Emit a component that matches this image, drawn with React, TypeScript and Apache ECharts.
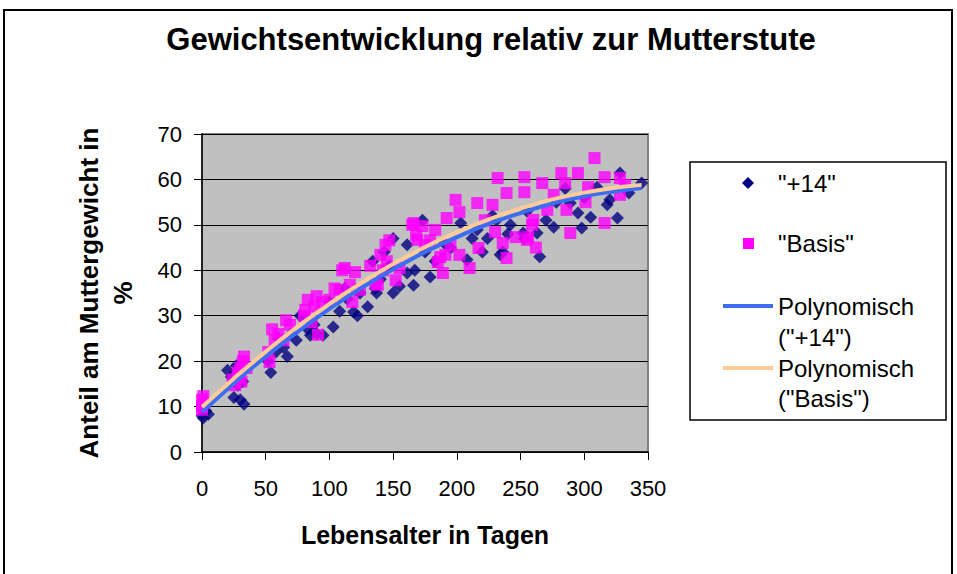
import React, { useEffect, useRef } from "react";
import * as echarts from "echarts";

const chartTitle = "Gewichtsentwicklung relativ zur Mutterstute";
const xAxisName = "Lebensalter in Tagen";
const yAxisName = "Anteil am Muttergewicht in\n%";
const seriesNames = ['"+14"', '"Basis"', 'Polynomisch ("+14")', 'Polynomisch ("Basis")'];

// "+14" measurements: [age in days, % of mare weight]
const plus14: [number, number][] = [
  [0, 8], [1, 7.5], [3, 9], [0, 9.5], [5, 8.3],
  [20, 18], [23, 16.5], [25, 12], [28, 14.7], [30, 11.5], [33, 10.5], [32, 15.5], [27, 19],
  [52, 20], [54, 17.5], [58, 22], [60, 25], [64, 23], [67, 21], [70, 26],
  [74, 24.6], [77, 30], [81, 29.7], [83, 27], [85, 25.7], [88, 28], [90, 26], [95, 25.7],
  [100, 33], [103, 27.5], [108, 31], [112, 36], [114, 33.7], [119, 30.8], [120, 35.7], [122, 30], [124, 35], [130, 32],
  [134, 42], [136, 36], [137, 35], [140, 38], [143, 44], [147, 41], [150, 47], [150, 35], [155, 36.5],
  [161, 39.4], [161, 45.6], [166, 36.7], [167, 40], [173, 51], [175, 44], [179, 38.5], [183, 42], [190, 46], [195, 44.9],
  [203, 50.4], [208, 42.3], [212, 47], [216, 48.9], [220, 44], [224, 47], [228, 52], [231, 51], [234, 43.4], [236, 44], [240, 48],
  [242, 50], [252, 48.2], [253, 47], [255, 53], [263, 48.2], [265, 43], [270, 51], [276, 49.5], [278, 55],
  [285, 58], [289, 54.8], [295, 52.6], [298, 49.3], [300, 56], [305, 51.7], [310, 58.3], [318, 54.4], [320, 55.5], [326, 51.5], [328, 61.4], [335, 57], [345, 59.2],
];

// "Basis" measurements
const basis: [number, number][] = [
  [0, 10], [0, 11.5], [1, 12.3], [2, 10.8], [0, 9.3],
  [24, 16], [26, 14.7], [28, 17.5], [30, 18.5], [32, 20], [33, 21], [35, 18.5], [29, 16.3], [31, 15.5],
  [52, 22], [53, 19.8], [55, 27], [57, 24.6], [60, 26], [64, 24.6], [66, 29], [69, 28],
  [80, 30], [81, 31.3], [83, 33.5], [86, 28.6], [88, 32], [90, 34.3], [91, 25.8], [94, 33],
  [100, 33.5], [104, 36], [108, 35.7], [110, 40], [112, 40.5], [116, 36.8], [120, 39.6], [124, 35.7], [118, 33],
  [132, 41], [136, 37], [138, 36.8], [140, 43.4], [142, 40], [144, 45.6], [147, 46.6], [152, 37.8], [155, 40.5], [145, 42],
  [165, 50], [166, 50.4], [168, 47.8], [169, 46.7], [173, 49.7], [175, 45.6], [179, 46.6], [183, 48.9], [185, 41.8], [187, 42.9], [189, 39.4], [191, 43.4], [192, 51.5], [195, 45.6], [199, 55.5],
  [202, 52.8], [202, 43.4], [210, 40.5], [216, 54.8], [217, 44.9], [222, 51], [228, 54.4], [230, 48.4], [232, 60.3], [236, 46], [239, 57], [239, 42.7],
  [246, 47.3], [253, 60.5], [253, 57.2], [255, 46.7], [256, 47.3], [259, 50], [260, 51.1], [267, 59.2], [271, 53.3], [276, 56.6], [262, 45],
  [282, 61.4], [285, 59.2], [286, 53.3], [289, 48.2], [295, 61.4], [301, 55], [303, 58.3], [308, 64.7], [316, 60.5], [316, 50.4], [328, 60.3], [328, 56.6], [332, 58.8],
];

// polynomial trend lines
const trendX = [0, 25, 50, 75, 100, 125, 150, 175, 200, 225, 250, 275, 300, 325, 345];
const trendPlus14 = [8.8, 15.1, 21.0, 26.4, 31.5, 36.1, 40.2, 44.0, 47.3, 50.2, 52.6, 54.7, 56.3, 57.4, 58.1];
const trendBasis = [9.9, 16.2, 22.1, 27.6, 32.6, 37.2, 41.4, 45.1, 48.4, 51.2, 53.6, 55.6, 57.1, 58.2, 58.8];

const FONT = "'Liberation Sans', Arial, Helvetica, sans-serif";
const NAVY = "#000080";
const PINK = "#FF00FF";
const BLUE = "#3D6EF2";
const PEACH = "#FFCC99";

export default function App() {
  const ref = useRef<HTMLDivElement>(null);
  useEffect(() => {
    document.body.style.margin = "0";
    if (!ref.current) return;
    const chart = echarts.init(ref.current, undefined, { renderer: "svg" });
    const legendX = 690, legendY = 162;
    const legendText = (text: string, y: number) => ({
      type: "text",
      x: 778,
      y,
      style: { text, font: `24px ${FONT}`, fill: "#000", verticalAlign: "middle", align: "left" },
      z: 10,
    });
    chart.setOption({
      animation: false,
      backgroundColor: "#fff",
      textStyle: { fontFamily: FONT },
      title: {
        text: chartTitle,
        left: 491,
        top: 24,
        padding: 0,
        textAlign: "center",
        textStyle: { fontFamily: FONT, fontSize: 31, fontWeight: "bold", color: "#000" },
      },
      grid: {
        left: 202,
        top: 134,
        width: 446,
        height: 318,
        show: true,
        backgroundColor: "#C0C0C0",
        borderColor: "#808080",
        borderWidth: 2,
      },
      xAxis: {
        type: "value",
        min: 0,
        max: 350,
        interval: 50,
        name: xAxisName,
        nameLocation: "middle",
        nameGap: 70,
        nameTextStyle: { fontFamily: FONT, fontSize: 25, fontWeight: "bold", color: "#000" },
        axisLine: { show: true, onZero: false, lineStyle: { color: "#000", width: 1.5 } },
        axisTick: { show: true, length: 8, lineStyle: { color: "#000" } },
        axisLabel: { fontFamily: FONT, fontSize: 22, color: "#000", margin: 25 },
        splitLine: { show: false },
      },
      yAxis: {
        type: "value",
        min: 0,
        max: 70,
        interval: 10,
        name: yAxisName,
        nameLocation: "middle",
        nameRotate: 90,
        nameGap: 62,
        nameTextStyle: { fontFamily: FONT, fontSize: 26, fontWeight: "bold", color: "#000", lineHeight: 34 },
        axisLine: { show: true, onZero: false, lineStyle: { color: "#000", width: 1.5 } },
        axisTick: { show: true, length: 8, lineStyle: { color: "#000" } },
        axisLabel: { fontFamily: FONT, fontSize: 22, color: "#000", margin: 20 },
        splitLine: { show: true, lineStyle: { color: "#000", width: 1 } },
      },
      series: [
        {
          name: seriesNames[0],
          type: "scatter",
          symbol: "diamond",
          symbolSize: 13,
          itemStyle: { color: NAVY },
          data: plus14,
          z: 2,
        },
        {
          name: seriesNames[1],
          type: "scatter",
          symbol: "rect",
          symbolSize: 12,
          itemStyle: { color: PINK },
          data: basis,
          z: 3,
        },
        {
          name: seriesNames[2],
          type: "line",
          smooth: true,
          showSymbol: false,
          lineStyle: { color: BLUE, width: 4 },
          itemStyle: { color: BLUE },
          data: trendX.map((x, i) => [x, trendPlus14[i]]),
          z: 4,
        },
        {
          name: seriesNames[3],
          type: "line",
          smooth: true,
          showSymbol: false,
          lineStyle: { color: PEACH, width: 4 },
          itemStyle: { color: PEACH },
          data: trendX.map((x, i) => [x, trendBasis[i]]),
          z: 5,
        },
      ],
      graphic: [
        {
          type: "rect",
          shape: { x: 4, y: 10, width: 948, height: 620 },
          style: { fill: "none", stroke: "#000", lineWidth: 2 },
          silent: true,
          z: -1,
        },
        {
          type: "rect",
          shape: { x: legendX, y: legendY, width: 256, height: 258 },
          style: { fill: "#fff", stroke: "#000", lineWidth: 1.5 },
          z: 5,
        },
        {
          type: "polygon",
          shape: { points: [[748, 177], [754, 183], [748, 189], [742, 183]] },
          style: { fill: NAVY },
          z: 10,
        },
        legendText(seriesNames[0], 183),
        {
          type: "rect",
          shape: { x: 743, y: 238, width: 11, height: 11 },
          style: { fill: PINK },
          z: 10,
        },
        legendText(seriesNames[1], 243),
        {
          type: "line",
          shape: { x1: 723, y1: 306, x2: 773, y2: 306 },
          style: { stroke: BLUE, lineWidth: 4 },
          z: 10,
        },
        legendText("Polynomisch", 306),
        legendText('("+14")', 337),
        {
          type: "line",
          shape: { x1: 723, y1: 368, x2: 773, y2: 368 },
          style: { stroke: PEACH, lineWidth: 4 },
          z: 10,
        },
        legendText("Polynomisch", 368),
        legendText('("Basis")', 398),
      ],
    });
    return () => chart.dispose();
  }, []);
  return <div ref={ref} style={{ width: 957, height: 574 }} />;
}
